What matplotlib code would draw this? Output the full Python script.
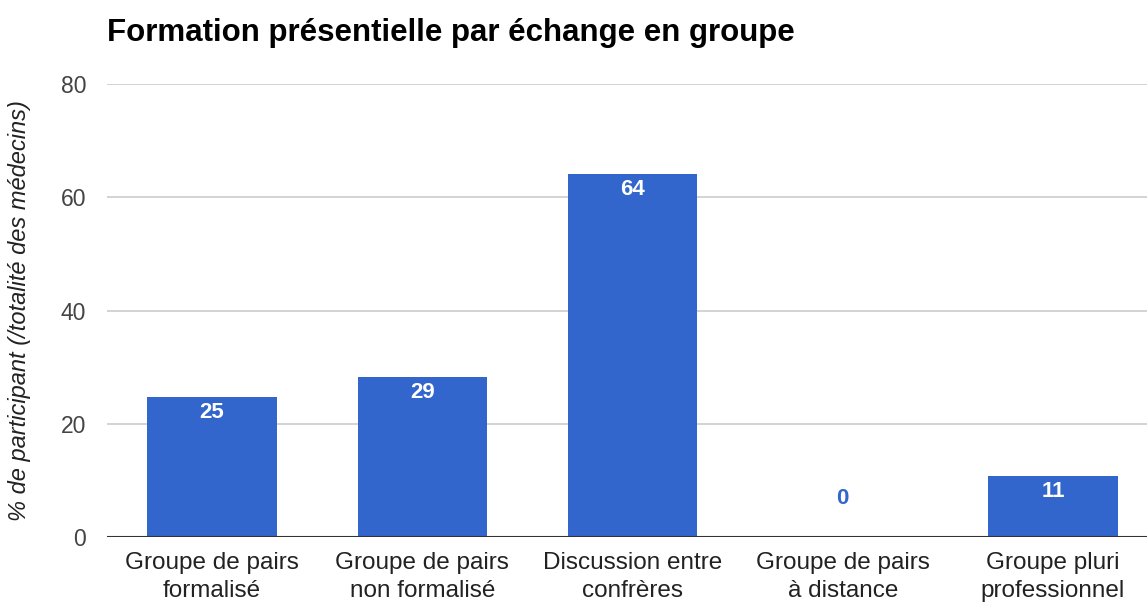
import matplotlib.pyplot as plt
import numpy as np

# data ----
categories = ["Groupe de pairs\nformalisé", "Groupe de pairs\nnon formalisé",
              "Discussion entre\nconfrères", "Groupe de pairs\nà distance",
              "Groupe pluri\nprofessionnel"]
values = [24.7, 28.3, 64.1, 0.0, 10.8]
value_labels = ["25", "29", "64", "0", "11"]
y_ticks = [0, 20, 40, 60, 80]

plt.rcParams['font.family'] = ['Liberation Sans', 'DejaVu Sans']

fig = plt.figure(figsize=(11.47, 6.05), dpi=100)
ax = fig.add_axes([107 / 1147, 68 / 605, 1051 / 1147, 453 / 605])

x = np.arange(len(categories))
bars = ax.bar(x, values, width=0.615, color='#3366cc', zorder=2)

# value labels ----
for xi, v, lab in zip(x, values, value_labels):
    if v > 3:
        ax.text(xi, v - 0.9, lab, ha='center', va='top', color='white',
                fontsize=16, fontweight='bold', zorder=3)
    else:
        ax.text(xi, v + 6.8, lab, ha='center', va='center', color='#3366cc',
                fontsize=16, fontweight='bold', zorder=3)

ax.set_xlim(-0.5, len(categories) - 0.5)
ax.set_ylim(0, 80)
ax.set_yticks(y_ticks)
ax.set_xticks(x)
ax.set_xticklabels(categories, fontsize=17.5, color='#222222', linespacing=1.35)
ax.tick_params(axis='y', labelsize=16.5, labelcolor='#444444', length=0, pad=15)
ax.tick_params(axis='x', length=0, pad=11)
ax.yaxis.grid(True, color='#cccccc', linewidth=1.2, zorder=0)
ax.axhline(0, color='#333333', linewidth=1.5, zorder=3)
for s in ax.spines.values():
    s.set_visible(False)

ax.set_ylabel("% de participant (/totalité des médecins)", fontsize=17,
              style='italic', color='#222222')
ax.yaxis.set_label_coords(-76 / 1051, 0.5)
fig.text(107 / 1147, 1 - 33 / 605, "Formation présentielle par échange en groupe",
         fontsize=22.5, fontweight='bold', va='center', ha='left')

fig.savefig('out.png', dpi=100)
